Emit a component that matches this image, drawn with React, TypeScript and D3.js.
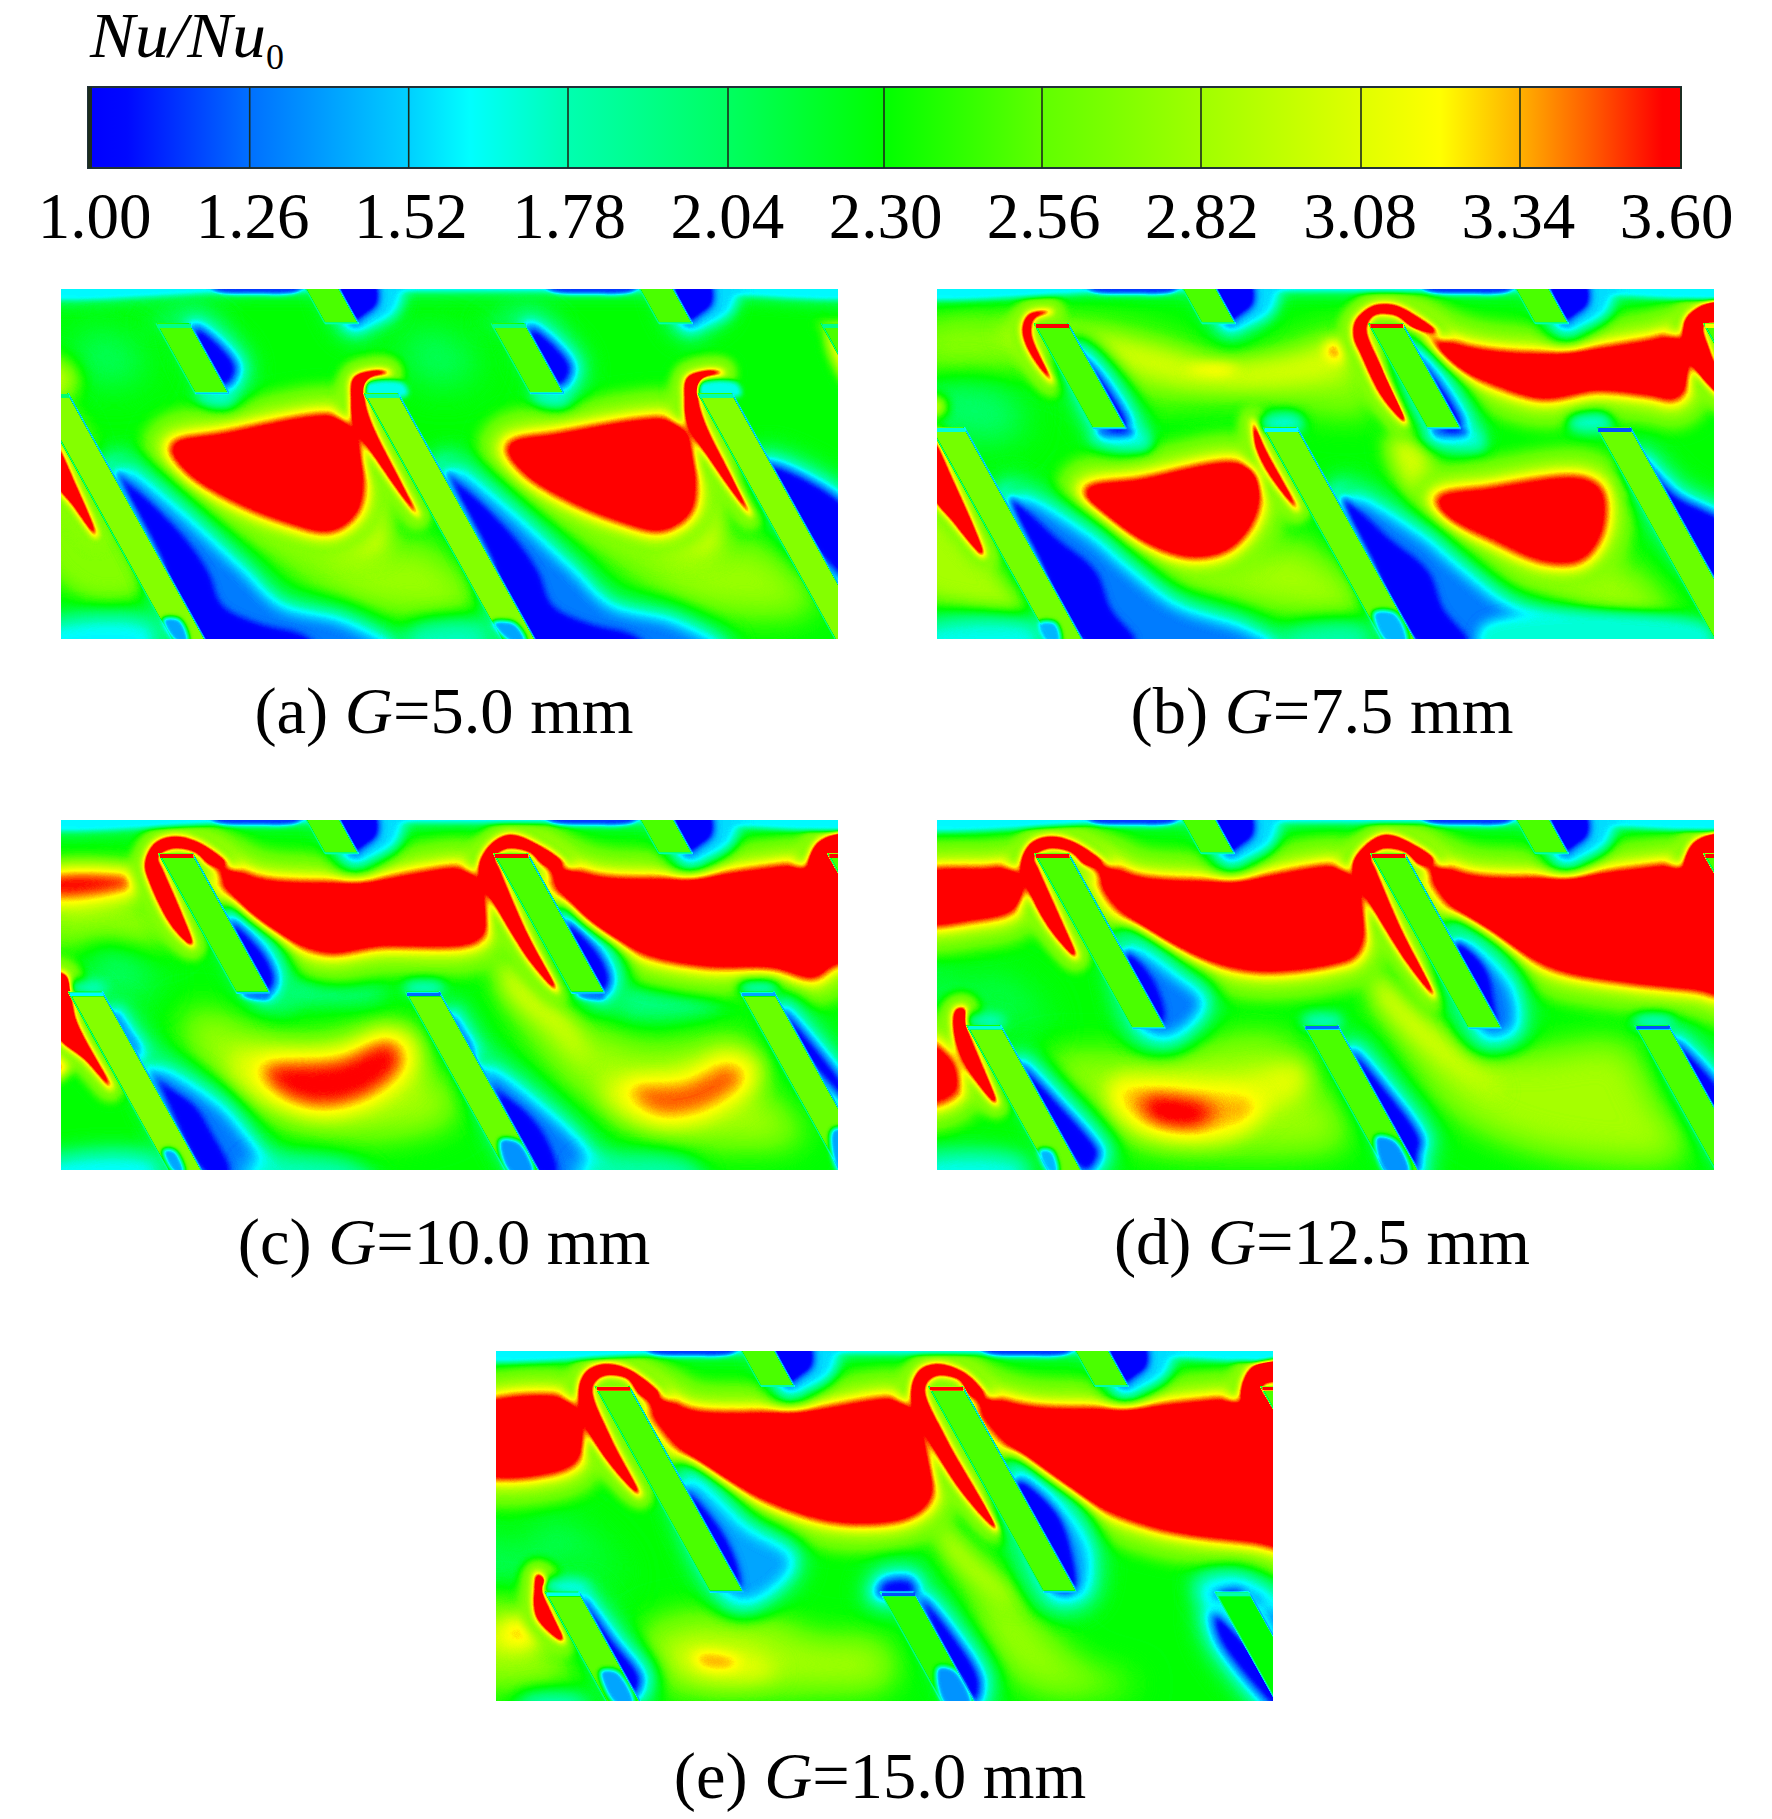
import React from "react";
import * as d3 from "d3";

type Layer = { v: number; b: number; pts: number[][]; at?: number[] };
type Fin = { x: number; y0: number; y1: number; cap?: number; body?: number; left?: number; right?: number; foot?: number };

const tickValues = [1.0, 1.26, 1.52, 1.78, 2.04, 2.3, 2.56, 2.82, 3.08, 3.34, 3.6];
const tickPlaces = [90, 249.7, 408.7, 568, 728, 884, 1042, 1201, 1361, 1520, 1681];
const rampValues = [1.0, 1.06, 1.26, 1.52, 1.62, 1.78, 2.04, 2.3, 2.56, 2.82, 3.08, 3.21, 3.34, 3.46, 3.57, 3.6];
const rampColors = ["#0000ff", "#0008ff", "#0070ff", "#00d0ff", "#00ffff", "#00ffb0", "#00ff60", "#00ff00", "#60ff00", "#a0ff00", "#e0ff00", "#ffff00", "#ffb000", "#ff5800", "#ff0000", "#ff0000"];

const captions = [
  { tag: "(a) ", g: "=5.0 mm" },
  { tag: "(b) ", g: "=7.5 mm" },
  { tag: "(c) ", g: "=10.0 mm" },
  { tag: "(d) ", g: "=12.5 mm" },
  { tag: "(e) ", g: "=15.0 mm" },
];

const CELL = [0, 676];
const topCommon: Layer[] = [
  { v: 2.05, b: 2, pts: [[-100, -60], [400, -60], [800, -60], [1200, -60], [1680, -60], [1680, 24], [1200, 24], [800, 24], [400, 24], [-100, 24]] },
  { v: 1.6, b: 1, pts: [[-100, -60], [400, -60], [800, -60], [1200, -60], [1680, -60], [1680, 9], [1200, 9], [800, 9], [400, 9], [-100, 9]] },
  { v: 1.15, b: 1, at: CELL, pts: [[300, -30], [490, -30], [480, 6], [390, 16], [310, 4]] },
  { v: 1.55, b: 2, at: CELL, pts: [[555, -30], [690, -30], [680, 70], [625, 110], [585, 112]] },
  { v: 0.95, b: 1, at: CELL, pts: [[560, -30], [632, -30], [640, 45], [612, 82], [592, 100]] },
];

const finsA: Fin[] = [
  { x: 491, y0: -8, y1: 103 }, { x: 1165, y0: -8, y1: 103 },
  { x: 192, y0: 103, y1: 313, cap: 1.9 }, { x: 868, y0: 103, y1: 313, cap: 1.9 }, { x: 1534, y0: 103, y1: 313, cap: 1.9 },
  { x: -54, y0: 313, y1: 1120, cap: 2.0, body: 2.7 }, { x: 612, y0: 313, y1: 1120, cap: 1.8, body: 2.7 }, { x: 1286, y0: 313, y1: 1120, cap: 1.8, body: 2.7 },
];
const layersA: Layer[] = [
  ...topCommon,
  { v: 2.0, b: 3, at: CELL, pts: [[170, 110], [230, 60], [300, 80], [330, 130], [230, 110]] },
  { v: 2.05, b: 4, pts: [[40, 130], [130, 150], [170, 240], [110, 290], [40, 240]] },
  { v: 2.05, b: 4, pts: [[700, 130], [800, 150], [840, 240], [780, 290], [700, 240]] },
  { v: 2.95, b: 3, pts: [[-40, 215], [20, 230], [30, 300], [-40, 340]] },
  { v: 2.7, b: 3, pts: [[-40, 340], [30, 380], [100, 640], [170, 900], [60, 930], [-40, 800]] },
  { v: 2.8, b: 4, at: [0, 673], pts: [[350, 700], [640, 780], [720, 760], [850, 950], [620, 960], [430, 800]] },
  { v: 3.05, b: 3, at: [0, 673], pts: [[560, 700], [640, 600], [660, 780], [600, 810], [530, 780]] },
  { v: 1.3, b: 2, at: [0, 666], pts: [[130, 560], [211, 648], [359, 848], [440, 960], [570, 1010], [660, 1090], [300, 1090], [200, 800]] },
  { v: 3.85, b: 2, pts: [[225, 472], [327, 438], [560, 385], [600, 425], [608, 568], [595, 668], [545, 722], [454, 695], [330, 618], [255, 545]] },
  { v: 3.85, b: 2, at: [678], pts: [[225, 472], [327, 438], [550, 395], [590, 425], [600, 568], [590, 668], [535, 720], [454, 695], [330, 618], [255, 545]] },
  { v: 1.0, b: 1, at: [0, 666], pts: [[110, 540], [150, 600], [185, 648], [250, 750], [296, 848], [325, 950], [400, 1005], [490, 1040], [520, 1085], [280, 1085], [200, 800]] },
  { v: 1.0, b: 1, pts: [[1420, 530], [1600, 680], [1610, 890], [1480, 700]] },
  { v: 1.6, b: 3, pts: [[-50, 1015], [190, 1000], [190, 1100], [-50, 1100]] },
  { v: 1.75, b: 3, pts: [[700, 1020], [860, 1005], [860, 1100], [700, 1100]] },
  { v: 1.72, b: 2, at: CELL, pts: [[270, 310], [345, 310], [345, 345], [290, 345]] },
  { v: 1.0, b: 1, at: CELL, pts: [[270, 118], [320, 170], [352, 240], [330, 290], [300, 240]] },
  { v: 1.65, b: 1, at: [0, 673], pts: [[612, 285], [690, 280], [700, 318], [612, 318]] },
  { v: 3.95, b: 1, at: [0, 673], pts: [[591, 266], [633, 245], [660, 251], [621, 268], [612, 317], [623, 391], [686, 581], [718, 676], [635, 507], [591, 401], [586, 330]] },
  { v: 3.95, b: 1, pts: [[-10, 470], [30, 590], [70, 738], [25, 650], [-10, 580]] },
  { v: 3.2, b: 2, pts: [[1525, 110], [1540, 100], [1550, 180], [1575, 260], [1600, 300], [1600, 120]] },
];
const overA: Layer[] = [
  { v: 1.4, b: 1, pts: [[205, 990], [240, 990], [258, 1060], [232, 1060]] },
  { v: 1.4, b: 1, pts: [[870, 1000], [915, 1000], [940, 1060], [905, 1060]] },
];

const finsB: Fin[] = [
  { x: 493, y0: -8, y1: 103 }, { x: 1165, y0: -8, y1: 103 },
  { x: 196, y0: 103, y1: 418, cap: 3.6 }, { x: 871, y0: 103, y1: 418, cap: 3.6 }, { x: 1547, y0: 103, y1: 418, cap: 3.2 },
  { x: -13, y0: 415, y1: 1120, cap: 1.7, body: 2.65 }, { x: 658, y0: 415, y1: 1120, cap: 1.6, body: 2.6 }, { x: 1331, y0: 415, y1: 1120, cap: 1.2, body: 2.6 },
];
const layersB: Layer[] = [
  ...topCommon,
  { v: 2.75, b: 4, pts: [[-40, 120], [220, 90], [420, 130], [600, 210], [840, 130], [880, 360], [620, 330], [380, 330], [230, 240], [-40, 230]] },
  { v: 3.05, b: 3, pts: [[130, 120], [280, 130], [440, 180], [560, 220], [720, 200], [820, 160], [830, 240], [700, 290], [520, 290], [360, 230], [200, 200]] },
  { v: 3.3, b: 2, pts: [[500, 238], [575, 228], [610, 242], [560, 256]] },
  { v: 3.42, b: 2, pts: [[785, 165], [825, 160], [825, 205], [790, 210]] },
  { v: 2.0, b: 4, pts: [[-20, 300], [80, 280], [170, 350], [160, 440], [60, 450], [-20, 380]] },
  { v: 2.95, b: 2, pts: [[-30, 330], [15, 330], [15, 375], [-30, 380]] },
  { v: 2.85, b: 4, pts: [[300, 800], [620, 800], [720, 760], [880, 970], [640, 950], [430, 860]] },
  { v: 2.85, b: 4, pts: [[1000, 800], [1330, 800], [1400, 840], [1490, 1000], [1280, 950], [1080, 850]] },
  { v: 3.05, b: 3, pts: [[910, 440], [990, 470], [1000, 620], [950, 610]] },
  { v: 2.85, b: 3, pts: [[-40, 520], [40, 600], [130, 860], [190, 980], [50, 950], [-40, 900]] },
  { v: 1.3, b: 2, at: [0, 671], pts: [[170, 640], [300, 748], [380, 848], [480, 960], [620, 1030], [680, 1090], [320, 1090], [220, 800]] },
  { v: 3.85, b: 2, pts: [[300, 605], [412, 575], [600, 525], [645, 555], [640, 680], [590, 775], [520, 800], [433, 765], [345, 680]] },
  { v: 3.75, b: 2, pts: [[1010, 630], [1115, 600], [1300, 570], [1340, 605], [1340, 730], [1300, 810], [1225, 815], [1115, 745], [1030, 680]] },
  { v: 1.0, b: 1, at: [0, 671], pts: [[145, 620], [240, 748], [320, 848], [350, 960], [400, 1060], [300, 1060], [200, 800]] },
  { v: 1.0, b: 1, pts: [[1420, 520], [1490, 620], [1600, 720], [1600, 900], [1480, 710]] },
  { v: 1.65, b: 3, pts: [[-50, 1020], [210, 1005], [210, 1100], [-50, 1100]] },
  { v: 1.8, b: 3, pts: [[700, 1030], [870, 1010], [870, 1100], [700, 1100]] },
  { v: 1.7, b: 2, pts: [[1100, 1010], [1560, 1010], [1560, 1100], [1100, 1100]] },
  { v: 1.7, b: 2, at: [0, 675], pts: [[320, 420], [420, 420], [430, 480], [310, 450]] },
  { v: 1.6, b: 1, at: [0, 675], pts: [[320, 420], [400, 420], [400, 450], [335, 455]] },
  { v: 1.3, b: 1, at: [0, 675], pts: [[325, 422], [395, 422], [392, 438], [335, 440]] },
  { v: 1.0, b: 1, at: [0, 675], pts: [[280, 200], [320, 250], [385, 420], [345, 420]] },
  { v: 1.7, b: 2, at: [0, 622, 1295], pts: [[655, 385], [730, 375], [740, 420], [655, 420]] },
  { v: 3.95, b: 1, pts: [[190, 73], [228, 68], [196, 88], [190, 138], [233, 278], [195, 208], [174, 138], [176, 98]] },
  { v: 3.95, b: 1, pts: [[844, 98], [877, 53], [920, 48], [963, 78], [1006, 128], [963, 118], [925, 78], [882, 78], [866, 118], [898, 238], [947, 403], [898, 323], [855, 193], [842, 148]] },
  { v: 3.85, b: 2, pts: [[970, 110], [1020, 150], [1071, 178], [1223, 198], [1439, 158], [1504, 138], [1525, 213], [1493, 325], [1439, 315], [1331, 300], [1223, 325], [1115, 278], [1039, 228]] },
  { v: 3.95, b: 1, pts: [[1509, 98], [1547, 48], [1600, 40], [1600, 90], [1547, 108], [1557, 178], [1600, 340], [1522, 218]] },
  { v: 3.95, b: 1, pts: [[639, 398], [661, 478], [726, 658], [672, 558], [645, 478]] },
  { v: 3.4, b: 1, pts: [[1352, 558], [1374, 568], [1395, 628], [1363, 598]] },
  { v: 3.95, b: 1, pts: [[-10, 453], [33, 578], [93, 798], [33, 698], [-10, 613]] },
];
const overB: Layer[] = [
  { v: 1.45, b: 1, pts: [[205, 1000], [240, 1000], [250, 1060], [222, 1060]] },
  { v: 1.45, b: 1, pts: [[880, 970], [925, 970], [950, 1060], [905, 1060]] },
];

const finsC: Fin[] = [
  { x: 492, y0: -8, y1: 100 }, { x: 1166, y0: -8, y1: 100 },
  { x: 197, y0: 100, y1: 518, cap: 3.8 }, { x: 873, y0: 100, y1: 518, cap: 3.8 }, { x: 1547, y0: 100, y1: 518, cap: 3.6 },
  { x: 15, y0: 515, y1: 1120, cap: 1.6, body: 2.7 }, { x: 695, y0: 515, y1: 1120, cap: 1.25, body: 2.6 }, { x: 1370, y0: 515, y1: 1120, cap: 1.4, body: 2.6 },
];
const layersC: Layer[] = [
  ...topCommon,
  { v: 2.85, b: 4, pts: [[-40, 240], [150, 240], [230, 340], [180, 380], [-40, 340]] },
  { v: 2.0, b: 4, pts: [[60, 370], [170, 420], [190, 500], [120, 520], [50, 450]] },
  { v: 1.95, b: 3, pts: [[430, 430], [560, 490], [660, 510], [640, 550], [470, 560], [440, 600]] },
  { v: 1.95, b: 3, pts: [[1100, 510], [1240, 500], [1340, 560], [1240, 600], [1130, 590]] },
  { v: 2.85, b: 4, pts: [[250, 580], [480, 660], [680, 620], [730, 720], [800, 880], [640, 950], [420, 900], [300, 760]] },
  { v: 2.85, b: 4, pts: [[870, 420], [1000, 570], [1180, 680], [1380, 660], [1420, 820], [1500, 950], [1240, 960], [1080, 850], [950, 650]] },
  { v: 3.1, b: 3, pts: [[880, 400], [960, 520], [1030, 610], [1060, 720], [1000, 640], [900, 520]] },
  { v: 3.1, b: 3, pts: [[345, 705], [560, 675], [660, 620], [720, 650], [720, 760], [650, 855], [530, 900], [440, 865], [365, 800]] },
  { v: 3.58, b: 3, pts: [[400, 740], [560, 715], [665, 655], [695, 720], [640, 815], [530, 865], [440, 825]] },
  { v: 3.1, b: 3, pts: [[1095, 790], [1250, 745], [1350, 685], [1415, 730], [1400, 810], [1310, 905], [1200, 925], [1115, 870]] },
  { v: 3.48, b: 3, pts: [[1140, 800], [1260, 785], [1350, 725], [1385, 770], [1300, 870], [1195, 885]] },
  { v: 1.3, b: 2, pts: [[190, 760], [310, 860], [370, 960], [420, 1080], [300, 1080]] },
  { v: 1.3, b: 2, pts: [[860, 760], [990, 900], [1050, 990], [1090, 1080], [970, 1080]] },
  { v: 3.85, b: 2, pts: [[295, 105], [345, 145], [400, 180], [600, 190], [835, 155], [860, 225], [850, 345], [820, 370], [640, 375], [540, 395], [440, 345], [370, 275], [330, 195]] },
  { v: 3.85, b: 2, pts: [[965, 95], [1020, 140], [1080, 172], [1250, 178], [1500, 135], [1640, 120], [1640, 410], [1560, 430], [1520, 470], [1440, 440], [1300, 435], [1180, 400], [1060, 310], [1000, 200]] },
  { v: 3.6, b: 3, pts: [[-50, 160], [110, 140], [170, 160], [165, 210], [100, 240], [-50, 240]] },
  { v: 1.0, b: 1, pts: [[110, 590], [200, 780], [270, 860], [300, 930], [340, 1060], [295, 1060], [200, 800]] },
  { v: 1.0, b: 1, pts: [[790, 600], [860, 780], [940, 880], [980, 960], [1000, 1060], [965, 1060], [870, 800]] },
  { v: 1.0, b: 1, pts: [[1460, 580], [1610, 860], [1610, 870], [1500, 700]] },
  { v: 1.0, b: 1, at: [0, 676], pts: [[345, 310], [408, 400], [430, 480], [418, 515], [400, 500]] },
  { v: 1.3, b: 1, at: [0, 676], pts: [[360, 520], [420, 520], [420, 536], [375, 536]] },
  { v: 1.7, b: 2, at: [0, 680, 1355], pts: [[15, 490], [90, 490], [92, 517], [15, 517]] },
  { v: 1.6, b: 3, pts: [[-50, 1030], [200, 1015], [200, 1100], [-50, 1100]] },
  { v: 1.75, b: 3, pts: [[380, 1030], [580, 1025], [640, 1100], [380, 1100]] },
  { v: 1.8, b: 3, pts: [[1050, 1030], [1270, 1025], [1300, 1100], [1050, 1100]] },
  { v: 3.95, b: 1, pts: [[170, 130], [190, 70], [230, 50], [280, 70], [330, 130], [300, 130], [270, 95], [225, 85], [195, 110], [205, 150], [240, 270], [265, 375], [225, 320], [180, 190]] },
  { v: 3.95, b: 1, pts: [[845, 130], [870, 70], [905, 45], [950, 65], [1010, 130], [975, 130], [945, 95], [900, 85], [875, 110], [885, 150], [940, 340], [1000, 510], [950, 430], [870, 240], [850, 190]] },
  { v: 3.95, b: 1, pts: [[1510, 130], [1530, 65], [1600, 40], [1600, 85], [1555, 110], [1570, 200], [1600, 260], [1530, 170]] },
  { v: 3.95, b: 1, pts: [[-10, 460], [12, 470], [30, 600], [100, 800], [50, 720], [-10, 640]] },
  { v: 3.5, b: 2, pts: [[-20, 640], [15, 650], [20, 740], [-20, 780]] },
];
const overC: Layer[] = [
  { v: 1.4, b: 1, pts: [[205, 990], [230, 990], [250, 1060], [228, 1060]] },
  { v: 1.35, b: 1, pts: [[885, 960], [925, 965], [955, 1060], [905, 1060]] },
  { v: 1.4, b: 1, pts: [[1555, 930], [1600, 930], [1600, 1060], [1570, 1060]] },
];

const finsD: Fin[] = [
  { x: 492, y0: -8, y1: 100 }, { x: 1166, y0: -8, y1: 100 },
  { x: 197, y0: 100, y1: 625, cap: 3.8 }, { x: 875, y0: 100, y1: 625, cap: 3.8 }, { x: 1547, y0: 100, y1: 625, cap: 3.6 },
  { x: 60, y0: 615, y1: 1120, cap: 1.7, body: 2.6 }, { x: 740, y0: 615, y1: 1120, cap: 1.25, body: 2.5 }, { x: 1408, y0: 615, y1: 1120, cap: 1.2, body: 2.5 },
];
const layersD: Layer[] = [
  ...topCommon,
  { v: 2.05, b: 4, pts: [[-30, 430], [60, 500], [100, 470], [180, 520], [220, 640], [110, 560], [-30, 540]] },
  { v: 2.85, b: 4, pts: [[870, 480], [1060, 660], [1180, 700], [1390, 680], [1440, 820], [1510, 1000], [1250, 1000], [1050, 880], [930, 650]] },
  { v: 3.1, b: 3, pts: [[880, 450], [960, 570], [1060, 710], [1140, 820], [1060, 760], [950, 640], [880, 520]] },
  { v: 2.8, b: 4, pts: [[200, 720], [420, 700], [700, 660], [770, 800], [830, 960], [620, 1000], [380, 960], [280, 830]] },
  { v: 3.1, b: 3, pts: [[345, 785], [620, 760], [735, 730], [745, 800], [670, 880], [600, 955], [450, 965], [365, 900]] },
  { v: 3.35, b: 3, pts: [[360, 800], [440, 805], [650, 840], [640, 890], [550, 940], [450, 925], [385, 880]] },
  { v: 3.65, b: 3, pts: [[415, 835], [560, 870], [525, 915], [430, 895]] },
  { v: 1.3, b: 2, pts: [[390, 400], [480, 480], [530, 550], [470, 640], [420, 620]] },
  { v: 1.3, b: 2, pts: [[1060, 380], [1150, 500], [1160, 620], [1110, 640]] },
  { v: 3.85, b: 2, pts: [[285, 100], [340, 130], [400, 172], [600, 185], [832, 150], [862, 230], [846, 400], [800, 428], [650, 450], [540, 415], [420, 328], [352, 240], [325, 170]] },
  { v: 3.85, b: 2, pts: [[965, 95], [1020, 140], [1080, 170], [1250, 175], [1500, 135], [1640, 120], [1640, 530], [1530, 505], [1400, 485], [1250, 445], [1130, 350], [1040, 260], [1000, 180]] },
  { v: 3.85, b: 2, pts: [[-50, 175], [100, 150], [170, 150], [180, 220], [150, 270], [80, 295], [-50, 300]] },
  { v: 1.0, b: 1, pts: [[380, 390], [436, 480], [458, 600], [425, 610]] },
  { v: 1.0, b: 1, pts: [[1045, 360], [1105, 440], [1125, 560], [1128, 610], [1100, 610]] },
  { v: 1.7, b: 2, at: [0, 680, 1348], pts: [[60, 590], [135, 590], [137, 617], [60, 617]] },
  { v: 1.0, b: 1, pts: [[170, 740], [250, 860], [315, 970], [325, 1000], [300, 1050]] },
  { v: 1.0, b: 1, pts: [[840, 700], [900, 800], [975, 960], [970, 1000], [965, 1050]] },
  { v: 1.0, b: 1, pts: [[1490, 670], [1610, 880], [1610, 1010]] },
  { v: 1.65, b: 3, pts: [[-50, 1020], [180, 1020], [180, 1100], [-50, 1100]] },
  { v: 3.95, b: 1, pts: [[170, 130], [190, 70], [230, 50], [280, 70], [330, 130], [300, 130], [270, 95], [225, 85], [195, 110], [205, 150], [250, 300], [280, 410], [225, 320], [180, 190]] },
  { v: 3.95, b: 1, pts: [[840, 130], [870, 70], [905, 45], [950, 65], [1000, 120], [975, 130], [945, 95], [900, 85], [875, 110], [885, 150], [940, 340], [1005, 530], [950, 430], [870, 240], [850, 190]] },
  { v: 3.95, b: 1, pts: [[1510, 130], [1530, 65], [1600, 40], [1600, 85], [1555, 110], [1570, 200], [1600, 270], [1530, 170]] },
  { v: 3.95, b: 1, pts: [[38, 570], [55, 565], [60, 620], [120, 850], [60, 740], [35, 640]] },
  { v: 3.85, b: 3, pts: [[-50, 695], [30, 695], [50, 780], [20, 830], [-50, 840]] },
];
const overD: Layer[] = [
  { v: 1.45, b: 1, pts: [[205, 990], [232, 990], [245, 1060], [225, 1060]] },
  { v: 1.35, b: 1, pts: [[885, 950], [925, 960], [955, 1060], [905, 1060]] },
];

const finsE: Fin[] = [
  { x: 492, y0: -8, y1: 105 }, { x: 1166, y0: -8, y1: 105 },
  { x: 200, y0: 105, y1: 722, cap: 3.8 }, { x: 873, y0: 105, y1: 722, cap: 3.8 }, { x: 1543, y0: 105, y1: 722, cap: 3.6 },
  { x: 99, y0: 722, y1: 1120, cap: 1.65, body: 2.55 }, { x: 775, y0: 722, y1: 1120, cap: 1.2, body: 2.4 }, { x: 1451, y0: 722, y1: 1120, cap: 1.8, body: 2.3 },
];
const layersE: Layer[] = [
  ...topCommon,
  { v: 2.05, b: 4, pts: [[-40, 530], [50, 610], [90, 520], [170, 540], [260, 700], [150, 620], [40, 690], [-40, 700]] },
  { v: 2.85, b: 4, pts: [[-40, 760], [70, 780], [130, 940], [170, 1000], [50, 1000], [-40, 1000]] },
  { v: 3.05, b: 3, pts: [[-40, 860], [60, 810], [100, 850], [80, 880], [-40, 890]] },
  { v: 3.4, b: 3, pts: [[15, 835], [65, 805], [90, 835], [60, 875], [20, 875]] },
  { v: 2.85, b: 4, pts: [[300, 840], [520, 790], [640, 860], [780, 880], [800, 990], [620, 1020], [380, 1020], [300, 960]] },
  { v: 3.12, b: 3, pts: [[370, 895], [500, 895], [570, 960], [500, 990], [390, 965]] },
  { v: 3.35, b: 2, pts: [[400, 912], [450, 905], [495, 935], [455, 958], [410, 942]] },
  { v: 2.8, b: 4, pts: [[880, 520], [1040, 720], [1180, 940], [1300, 1000], [1100, 1020], [1000, 900], [950, 700]] },
  { v: 3.1, b: 3, pts: [[890, 500], [960, 620], [1060, 760], [1000, 720], [900, 580]] },
  { v: 3.85, b: 2, pts: [[285, 100], [335, 135], [390, 180], [622, 182], [833, 155], [865, 240], [875, 440], [833, 495], [706, 512], [601, 478], [442, 370], [358, 270]] },
  { v: 3.85, b: 2, pts: [[945, 95], [1000, 140], [1087, 172], [1287, 172], [1498, 145], [1640, 140], [1640, 590], [1530, 570], [1340, 530], [1182, 440], [1055, 310], [992, 210]] },
  { v: 3.85, b: 2, pts: [[-50, 182], [157, 150], [178, 200], [178, 280], [147, 345], [-50, 355]] },
  { v: 1.4, b: 2, pts: [[390, 400], [500, 540], [590, 630], [540, 720], [490, 740], [430, 640]] },
  { v: 1.0, b: 1, pts: [[380, 410], [452, 530], [488, 640], [495, 715], [440, 600]] },
  { v: 1.4, b: 2, pts: [[1060, 380], [1150, 500], [1190, 610], [1180, 720], [1130, 730]] },
  { v: 1.0, b: 1, pts: [[1050, 385], [1130, 480], [1162, 600], [1168, 715], [1125, 715]] },
  { v: 1.6, b: 3, pts: [[1410, 690], [1500, 680], [1600, 770], [1610, 1000], [1600, 1080], [1500, 900]] },
  { v: 1.0, b: 1, pts: [[1450, 730], [1500, 715], [1600, 850], [1610, 910], [1530, 735], [1465, 738]] },
  { v: 1.0, b: 1, pts: [[1450, 790], [1600, 1050], [1600, 1100], [1462, 870]] },
  { v: 1.65, b: 2, at: [0], pts: [[95, 690], [180, 690], [190, 722], [100, 722]] },
  { v: 1.05, b: 1, pts: [[785, 695], [835, 690], [845, 725], [775, 725]] },
  { v: 1.0, b: 1, pts: [[860, 745], [920, 850], [975, 990], [965, 1050]] },
  { v: 1.0, b: 1, pts: [[175, 750], [235, 870], [290, 985], [275, 1030]] },
  { v: 1.7, b: 3, pts: [[50, 1040], [180, 1040], [180, 1100], [50, 1100]] },
  { v: 3.95, b: 1, pts: [[168, 110], [184, 60], [221, 40], [273, 60], [326, 130], [294, 130], [263, 80], [215, 75], [194, 110], [231, 260], [289, 430], [231, 340], [178, 210]] },
  { v: 3.95, b: 1, pts: [[838, 130], [854, 60], [891, 40], [949, 70], [981, 130], [960, 130], [934, 85], [886, 75], [865, 110], [907, 260], [1013, 540], [939, 420], [865, 240]] },
  { v: 3.95, b: 1, pts: [[1504, 130], [1525, 50], [1600, 30], [1600, 80], [1546, 105], [1570, 220], [1600, 260], [1520, 170]] },
  { v: 3.95, b: 1, pts: [[83, 670], [99, 685], [94, 720], [136, 870], [83, 800], [78, 710]] },
];
const overE: Layer[] = [
  { v: 1.4, b: 1, pts: [[210, 960], [245, 960], [280, 1060], [240, 1060]] },
  { v: 1.35, b: 1, pts: [[890, 950], [925, 955], [960, 1060], [905, 1060]] },
];

const panelData = [
  { px: 61, py: 289, layers: layersA, fins: finsA, over: overA, cx: 444, cy: 733 },
  { px: 937, py: 289, layers: layersB, fins: finsB, over: overB, cx: 1322, cy: 733 },
  { px: 61, py: 820, layers: layersC, fins: finsC, over: overC, cx: 444, cy: 1264 },
  { px: 937, py: 820, layers: layersD, fins: finsD, over: overD, cx: 1322, cy: 1264 },
  { px: 496, py: 1351, layers: layersE, fins: finsE, over: overE, cx: 880, cy: 1798 },
];

const W = 777;
const H = 350;
const BLUR = [0.6, 2.2, 6, 10, 17, 3.5, 8, 5];
const SLOPE = 0.375;
const FIN_W = 68;
const FONT = "'Liberation Serif','Times New Roman',serif";

const hotBand = [
  { v: 2.72, sw: 60, b: 6 },
  { v: 3.08, sw: 26, b: 7 },
  { v: 3.36, sw: 10, b: 7 },
];
const hotThin = [
  { v: 2.72, sw: 30, b: 7 },
  { v: 3.1, sw: 9, b: 1 },
];
const coldRings = [
  { v: 2.05, sw: 44, b: 6 },
  { v: 1.7, sw: 24, b: 7 },
  { v: 1.4, sw: 10, b: 5 },
];
const coolRings = [
  { v: 2.05, sw: 44, b: 6 },
  { v: 1.68, sw: 22, b: 7 },
];

const x = d3.scaleLinear().domain([0, 1568]).range([0, W]);
const y = d3.scaleLinear().domain([0, 1050]).range([0, H]);
const field = d3.scaleLinear().domain([0.4, 4.4]).range([0, 1]).clamp(true);
const ramp = d3.scaleLinear<string>().domain(rampValues).range(rampColors).clamp(true);
const barX = d3.scaleLinear().domain(tickValues).range(tickPlaces);
const labelX = d3.scaleLinear().domain([1, 3.6]).range([94.5, 1676.5]);

const gray = (v: number) => {
  const g = Math.round(field(v) * 255);
  return `rgb(${g},${g},${g})`;
};
const blob = d3.line<number[]>().x((d) => x(d[0])).y((d) => y(d[1])).curve(d3.curveCatmullRomClosed.alpha(0.5));
const table = d3.range(257).map((i) => d3.rgb(ramp(0.4 + (i / 256) * 4)));
const tv = (k: "r" | "g" | "b") => table.map((c) => (c[k] / 255).toFixed(4)).join(" ");

const isHot = (l: Layer) => l.v >= 3.7;
const isCold = (l: Layer) => l.v <= 1.1;

function Paths({ list, id }: { list: Layer[]; id: string }) {
  return (
    <>
      {list.flatMap((l, i) =>
        (l.at ?? [0]).map((dx) => (
          <path key={`${id}${i}-${dx}`} transform={`translate(${x(dx) - x(0)},0)`} d={blob(l.pts) ?? ""} fill={gray(l.v)} filter={`url(#blur${isCold(l) ? 5 : l.b})`} />
        ))
      )}
    </>
  );
}

function Rings({ list, rings, id }: { list: Layer[]; rings: { v: number; sw: number; b: number }[]; id: string }) {
  return (
    <>
      {rings.map((r, k) => (
        <g key={k} filter={`url(#blur${r.b})`}>
          {list.flatMap((l, i) =>
            (l.at ?? [0]).map((dx) => (
              <path key={`${id}${k}-${i}-${dx}`} transform={`translate(${x(dx) - x(0)},0)`} d={blob(l.pts) ?? ""} fill={gray(r.v)} stroke={gray(r.v)} strokeWidth={r.sw} strokeLinejoin="round" />
            ))
          )}
        </g>
      ))}
    </>
  );
}

function FinShape({ f }: { f: Fin }) {
  const dx = (f.y1 - f.y0) * SLOPE;
  const body = [[f.x, f.y0], [f.x + FIN_W, f.y0], [f.x + FIN_W + dx, f.y1], [f.x + dx, f.y1]];
  const p = (d: number[]) => `${x(d[0])},${y(d[1])}`;
  const capA = [f.x + 8 * SLOPE, f.y0 + 8];
  const capB = [f.x + FIN_W + 8 * SLOPE, f.y0 + 8];
  const stub = f.y0 < 0;
  return (
    <g>
      <polygon points={body.map(p).join(" ")} fill={gray(f.body ?? 2.5)} />
      <line x1={x(body[0][0])} y1={y(body[0][1])} x2={x(body[3][0])} y2={y(body[3][1])} stroke={gray(f.left ?? 1.9)} strokeWidth={1.3} />
      <line x1={x(body[1][0])} y1={y(body[1][1])} x2={x(body[2][0])} y2={y(body[2][1])} stroke={gray(f.right ?? 1.4)} strokeWidth={1.5} />
      {stub ? (
        <line x1={x(body[3][0])} y1={y(body[3][1])} x2={x(body[2][0])} y2={y(body[2][1])} stroke={gray(1.8)} strokeWidth={2} />
      ) : (
        <line x1={x(capA[0])} y1={y(capA[1])} x2={x(capB[0])} y2={y(capB[1])} stroke={gray(f.cap ?? 1.9)} strokeWidth={4} />
      )}
      {!stub && f.y1 < 1000 ? (
        <line x1={x(body[3][0])} y1={y(body[3][1])} x2={x(body[2][0])} y2={y(body[2][1])} stroke={gray(f.foot ?? 1.5)} strokeWidth={2} />
      ) : null}
    </g>
  );
}

function Panel({ d, i }: { d: (typeof panelData)[number]; i: number }) {
  const soft = d.layers.filter((l) => !isHot(l) && !isCold(l));
  const hot = d.layers.filter(isHot);
  const cold = d.layers.filter(isCold);
  const bands = hot.filter((l) => l.b >= 2);
  const thin = hot.filter((l) => l.b < 2);
  const warmSoft = soft.filter((l) => l.v >= 1.9);
  const coolSoft = soft.filter((l) => l.v < 1.9);
  const cool = coolSoft.filter((l) => l.v < 1.5 && l.b >= 2);
  return (
    <g transform={`translate(${d.px},${d.py})`} clipPath="url(#panelClip)">
      <g filter="url(#jet)">
        <rect x={-30} y={-30} width={W + 60} height={H + 60} fill={gray(2.3)} />
        <Paths list={warmSoft} id={`s${i}`} />
        <Rings list={bands} rings={hotBand} id={`hb${i}`} />
        <Rings list={thin} rings={hotThin} id={`ht${i}`} />
        <Rings list={cold} rings={coldRings} id={`c${i}`} />
        <Rings list={cool} rings={coolRings} id={`q${i}`} />
        <Paths list={coolSoft} id={`u${i}`} />
        <Paths list={hot} id={`h${i}`} />
        <Paths list={cold} id={`k${i}`} />
        {d.fins.map((f, k) => (
          <FinShape key={k} f={f} />
        ))}
        <Paths list={d.over} id={`o${i}`} />
      </g>
    </g>
  );
}

export default function App() {
  return (
    <svg width={1772} height={1819} viewBox="0 0 1772 1819" style={{ position: "absolute", left: 0, top: 0, background: "#fff" }}>
      <defs>
        <linearGradient id="bar" gradientUnits="userSpaceOnUse" x1={barX(1)} x2={barX(3.6)} y1={0} y2={0}>
          {rampValues.map((v, i) => (
            <stop key={i} offset={(barX(v) - barX(1)) / (barX(3.6) - barX(1))} stopColor={rampColors[i]} />
          ))}
        </linearGradient>
        <clipPath id="panelClip">
          <rect x={0} y={0} width={W} height={H} />
        </clipPath>
        {BLUR.map((s, i) => (
          <filter key={i} id={`blur${i}`} filterUnits="userSpaceOnUse" x={-80} y={-80} width={W + 160} height={H + 160} colorInterpolationFilters="sRGB">
            <feGaussianBlur stdDeviation={s} />
          </filter>
        ))}
        <filter id="jet" filterUnits="userSpaceOnUse" x={-30} y={-30} width={W + 60} height={H + 60} colorInterpolationFilters="sRGB">
          <feComponentTransfer>
            <feFuncR type="table" tableValues={tv("r")} />
            <feFuncG type="table" tableValues={tv("g")} />
            <feFuncB type="table" tableValues={tv("b")} />
          </feComponentTransfer>
        </filter>
      </defs>

      <text x={90} y={57} fontFamily={FONT} fontSize={63} textLength={176} lengthAdjust="spacingAndGlyphs" fontStyle="italic" fill="#000">Nu/Nu</text>
      <text x={266} y={69} fontFamily={FONT} fontSize={36} fill="#000">0</text>

      <rect x={88} y={87} width={1593} height={81} fill="url(#bar)" stroke="#203038" strokeWidth={2} />
      {tickValues.map((v) => (
        <line key={`t${v}`} x1={barX(v)} x2={barX(v)} y1={87} y2={168} stroke="#1c2c1c" strokeWidth={v === 1 ? 4 : 1.6} />
      ))}
      {tickValues.map((v) => (
        <text key={`l${v}`} x={labelX(v)} y={238} textAnchor="middle" fontFamily={FONT} fontSize={65} fill="#000">{v.toFixed(2)}</text>
      ))}

      {panelData.map((d, i) => (
        <Panel key={i} d={d} i={i} />
      ))}

      {panelData.map((d, i) => (
        <text key={`c${i}`} x={d.cx} y={d.cy} textAnchor="middle" fontFamily={FONT} fontSize={66.5} fill="#000">
          {captions[i].tag}
          <tspan fontStyle="italic">G</tspan>
          {captions[i].g}
        </text>
      ))}
    </svg>
  );
}
